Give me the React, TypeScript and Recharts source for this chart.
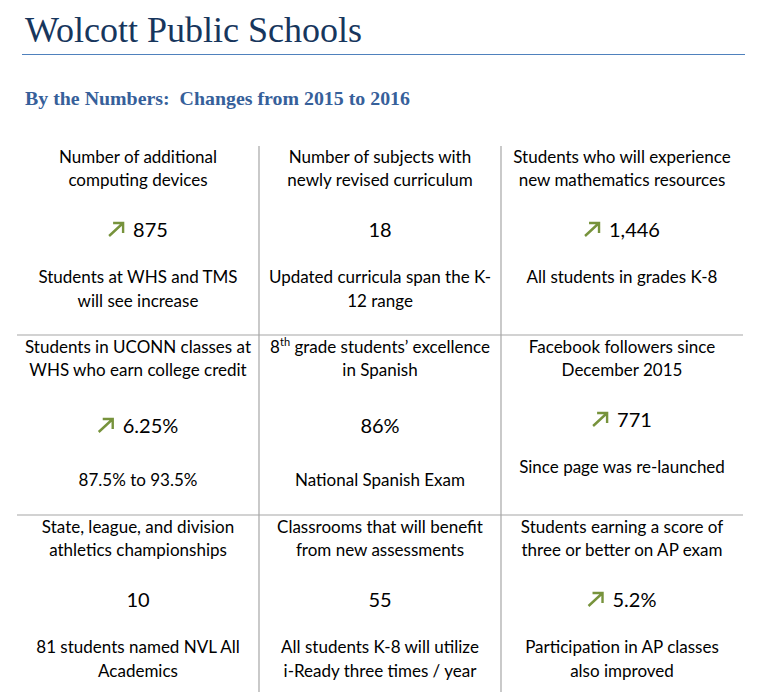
import React from 'react';
import { ScatterChart, Scatter, XAxis, YAxis, ReferenceLine } from 'recharts';

// ---------- data ----------
const TITLE = 'Wolcott Public Schools';
const SUBTITLE = 'By the Numbers:\u00a0 Changes from 2015 to 2016';

const tileColumns = [0, 1, 2, 0, 1, 2, 0, 1, 2];
const tileRows = [0, 0, 0, 1, 1, 1, 2, 2, 2];

const headings: string[][] = [
  ['Number of additional', 'computing devices'],
  ['Number of subjects with', 'newly revised curriculum'],
  ['Students who will experience', 'new mathematics resources'],
  ['Students in UCONN classes at', 'WHS who earn college credit'],
  ['8{th} grade students\u2019 excellence', 'in Spanish'],
  ['Facebook followers since', 'December 2015'],
  ['State, league, and division', 'athletics championships'],
  ['Classrooms that will benefit', 'from new assessments'],
  ['Students earning a score of', 'three or better on AP exam'],
];

const valueLabels = ['875', '18', '1,446', '6.25%', '86%', '771', '10', '55', '5.2%'];
const trendUp = [true, false, true, true, false, true, false, false, true];

const notes: string[][] = [
  ['Students at WHS and TMS', 'will see increase'],
  ['Updated curricula span the K-', '12 range'],
  ['All students in grades K-8'],
  ['87.5% to 93.5%'],
  ['National Spanish Exam'],
  ['Since page was re-launched'],
  ['81 students named NVL All', 'Academics'],
  ['All students K-8 will utilize', 'i-Ready three times / year'],
  ['Participation in AP classes', 'also improved'],
];

// ---------- layout / style ----------
const W = 767;
const H = 700;
const BODY_FONT = 'Lato, "Noto Sans", sans-serif';
const TEXT_SIZE = 17;
const VALUE_SIZE = 20;
const LINE_GAP = 23;
const GRID = '#A6A6A6';
const GREEN = '#77933C';
// per-tile vertical offsets (from the tile's top boundary)
const tileSpacing = [
  { head: 8, value: 82, note: 128 },
  { head: 8, value: 82, note: 128 },
  { head: 8, value: 82, note: 128 },
  { head: 18, value: 98, note: 151 },
  { head: 18, value: 98, note: 151 },
  { head: 18, value: 92, note: 138 },
  { head: 18, value: 92, note: 138 },
  { head: 18, value: 92, note: 138 },
  { head: 18, value: 92, note: 138 },
];

const tiles = valueLabels.map((v, i) => ({
  col: tileColumns[i] + 0.5,
  row: tileRows[i],
  idx: i,
  heading: headings[i],
  value: v,
  up: trendUp[i],
  note: notes[i],
}));

let ctx: CanvasRenderingContext2D | null = null;
function measure(text: string, font: string): number {
  try {
    if (!ctx) ctx = document.createElement('canvas').getContext('2d');
    if (ctx) {
      ctx.font = font;
      return ctx.measureText(text).width;
    }
  } catch (e) {}
  return text.length * 11;
}

function rich(line: string) {
  const m = line.match(/^(.*)\{(.*)\}(.*)$/);
  if (!m) return line;
  return (
    <>
      {m[1]}
      <tspan dy={-7} fontSize={11}>{m[2]}</tspan>
      <tspan dy={7}>{m[3]}</tspan>
    </>
  );
}

const Tile = (props: any) => {
  const { cx, cy, payload } = props;
  if (cx == null || cy == null) return null;
  const sp = tileSpacing[payload.idx];
  const vy = cy + sp.value;
  let valueEl: React.ReactNode;
  if (payload.up) {
    const tw = measure(payload.value, `${VALUE_SIZE}px Lato`);
    const arrowW = 16;
    const gap = 9;
    const total = arrowW + gap + tw;
    const x0 = cx - total / 2;
    const ax0 = x0 + 1;
    const ay0 = vy - 1;
    const ax1 = x0 + arrowW - 1;
    const ay1 = vy - 14;
    valueEl = (
      <g>
        <path
          d={`M${ax0},${ay0} L${ax1},${ay1} M${ax1 - 10},${ay1} L${ax1},${ay1} L${ax1},${ay1 + 10}`}
          stroke={GREEN}
          strokeWidth={2.4}
          fill="none"
        />
        <text x={x0 + arrowW + gap} y={vy} fontFamily={BODY_FONT} fontSize={VALUE_SIZE} fill="#000">
          {payload.value}
        </text>
      </g>
    );
  } else {
    valueEl = (
      <text x={cx} y={vy} textAnchor="middle" fontFamily={BODY_FONT} fontSize={VALUE_SIZE} fill="#000">
        {payload.value}
      </text>
    );
  }
  return (
    <g>
      {payload.heading.map((line: string, k: number) => (
        <text
          key={'h' + k}
          x={cx}
          y={cy + sp.head + k * LINE_GAP}
          textAnchor="middle"
          fontFamily={BODY_FONT}
          fontSize={TEXT_SIZE}
          fill="#000"
        >
          {rich(line)}
        </text>
      ))}
      {valueEl}
      {payload.note.map((line: string, k: number) => (
        <text
          key={'n' + k}
          x={cx}
          y={cy + sp.note + k * (LINE_GAP + 1)}
          textAnchor="middle"
          fontFamily={BODY_FONT}
          fontSize={TEXT_SIZE}
          fill="#000"
        >
          {line}
        </text>
      ))}
    </g>
  );
};

export default function App() {
  return (
    <div style={{ position: 'absolute', left: 0, top: 0, width: W, height: 692, overflow: 'hidden', background: '#fff' }}>
      <svg width={W} height={120} style={{ position: 'absolute', left: 0, top: 0 }}>
        <text x={25} y={42} fontFamily='"Liberation Serif", serif' fontSize={36} fill="#17365D">
          {TITLE}
        </text>
        <line x1={22} x2={745} y1={54.5} y2={54.5} stroke="#4F81BD" strokeWidth={1.2} />
        <text
          x={25}
          y={105}
          fontFamily='"Liberation Serif", serif'
          fontWeight="bold"
          fontSize={19}
          textLength={385}
          lengthAdjust="spacingAndGlyphs"
          fill="#36609A"
        >
          {SUBTITLE}
        </text>
      </svg>
      <div style={{ position: 'absolute', left: 0, top: 0 }}>
        <ScatterChart width={W} height={H} margin={{ top: 155, right: 24, bottom: 5, left: 17 }}>
          <XAxis type="number" dataKey="col" domain={[0, 3]} hide />
          <YAxis type="number" dataKey="row" domain={[0, 3]} reversed hide />
          <ReferenceLine y={1} stroke={GRID} strokeWidth={1.2} />
          <ReferenceLine y={2} stroke={GRID} strokeWidth={1.2} />
          <ReferenceLine
            segment={[{ x: 1, y: -0.05 }, { x: 1, y: 3 }]}
            ifOverflow="visible"
            stroke={GRID}
            strokeWidth={1.2}
          />
          <ReferenceLine
            segment={[{ x: 2, y: -0.05 }, { x: 2, y: 3 }]}
            ifOverflow="visible"
            stroke={GRID}
            strokeWidth={1.2}
          />
          <Scatter data={tiles} shape={(p: any) => <Tile {...p} />} isAnimationActive={false} />
        </ScatterChart>
      </div>
    </div>
  );
}
